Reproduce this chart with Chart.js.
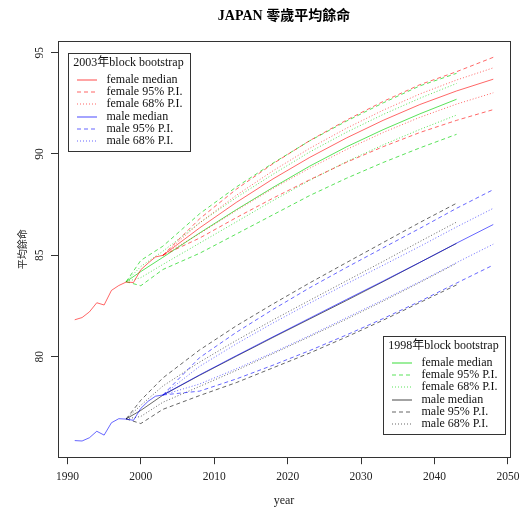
<!DOCTYPE html>
<html>
<head>
<meta charset="utf-8">
<title>JAPAN 零歲平均餘命</title>
<script src="https://cdn.jsdelivr.net/npm/chart.js@4.4.0/dist/chart.umd.min.js"></script>
<style>
  html, body { margin: 0; padding: 0; background: #fff; }
</style>
</head>
<body>
<canvas id="chart" width="522" height="508"></canvas>
<script>
// Observed life expectancy at birth
const histYears = [1991, 1992, 1993, 1994, 1995, 1996, 1997, 1998, 1999, 2000, 2001, 2002, 2003];
const femaleObserved = [81.82, 81.93, 82.21, 82.66, 82.55, 83.27, 83.51, 83.68, 83.66, 84.29, 84.62, 84.92, 85.0];
const maleObserved = [75.86, 75.84, 76.0, 76.32, 76.13, 76.74, 76.94, 76.92, 76.86, 77.45, 77.8, 78.05, 78.11];

// Block bootstrap forecasts, base year 2003
const years2003 = [2003, 2008, 2013, 2018, 2023, 2028, 2033, 2038, 2043, 2048];
const female2003Median = [85.0, 86.35, 87.61, 88.77, 89.83, 90.79, 91.66, 92.44, 93.11, 93.69];
const female2003Hi95 = [85.0, 86.80, 88.26, 89.52, 90.66, 91.67, 92.59, 93.42, 94.06, 94.77];
const female2003Lo95 = [85.0, 85.85, 86.86, 87.82, 88.73, 89.59, 90.36, 91.06, 91.66, 92.19];
const female2003Hi68 = [85.0, 86.60, 87.96, 89.17, 90.28, 91.27, 92.16, 92.96, 93.65, 94.25];
const female2003Lo68 = [85.0, 86.07, 87.21, 88.30, 89.30, 90.22, 91.06, 91.81, 92.46, 93.02];
const male2003Median = [78.11, 79.1, 80.05, 80.98, 81.9, 82.82, 83.73, 84.65, 85.6, 86.52];
const male2003Hi95 = [78.11, 79.95, 81.2, 82.33, 83.4, 84.4, 85.37, 86.33, 87.32, 88.24];
const male2003Lo95 = [78.11, 78.3, 78.9, 79.58, 80.3, 81.07, 81.88, 82.73, 83.63, 84.52];
const male2003Hi68 = [78.11, 79.52, 80.63, 81.66, 82.64, 83.59, 84.51, 85.44, 86.4, 87.32];
const male2003Lo68 = [78.11, 78.65, 79.4, 80.2, 81.04, 81.92, 82.8, 83.7, 84.64, 85.55];

// Block bootstrap forecasts, base year 1998
const years1998 = [1998, 2000, 2003, 2008, 2013, 2018, 2023, 2028, 2033, 2038, 2043];
const female1998Median = [83.7, 84.2, 84.9, 86.1, 87.25, 88.35, 89.4, 90.35, 91.2, 91.98, 92.70];
const female1998Hi95 = [83.7, 84.75, 85.45, 87.05, 88.37, 89.55, 90.65, 91.62, 92.52, 93.36, 93.98];
const female1998Lo95 = [83.7, 83.5, 84.3, 85.1, 86.05, 87.0, 87.95, 88.8, 89.58, 90.3, 90.97];
const female1998Hi68 = [83.7, 84.45, 85.2, 86.6, 87.85, 89.0, 90.1, 91.07, 91.95, 92.75, 93.48];
const female1998Lo68 = [83.7, 83.9, 84.55, 85.6, 86.65, 87.7, 88.7, 89.62, 90.45, 91.21, 91.92];
const male1998Median = [76.93, 77.35, 78.1, 79.08, 80.02, 80.95, 81.86, 82.77, 83.7, 84.65, 85.59];
const male1998Hi95 = [76.93, 77.85, 78.95, 80.33, 81.52, 82.6, 83.64, 84.64, 85.63, 86.62, 87.57];
const male1998Lo95 = [76.93, 76.7, 77.4, 78.08, 78.72, 79.45, 80.18, 80.97, 81.8, 82.67, 83.54];
const male1998Hi68 = [76.93, 77.6, 78.55, 79.73, 80.8, 81.81, 82.78, 83.74, 84.7, 85.68, 86.64];
const male1998Lo68 = [76.93, 77.05, 77.75, 78.53, 79.32, 80.15, 80.99, 81.85, 82.74, 83.66, 84.61];

// Axis ticks and labels
const xTicks = [1990, 2000, 2010, 2020, 2030, 2040, 2050];
const yTicks = [80, 85, 90, 95];
const chartTitle = 'JAPAN 零歲平均餘命';
const xTitle = 'year';
const yTitle = '平均餘命';
const legendRows = ['female median', 'female 95% P.I.', 'female 68% P.I.', 'male median', 'male 95% P.I.', 'male 68% P.I.'];
const legendTitles = { b2003: '2003年block bootstrap', b1998: '1998年block bootstrap' };

const FONT = "'Liberation Serif', 'Noto Sans CJK TC', serif";
const RED = 'rgba(255,0,0,0.6)';
const GREEN = 'rgba(0,210,0,0.65)';
const BLUE = 'rgba(0,0,255,0.6)';
const BLACK = 'rgba(0,0,0,0.6)';
const DASH = [4, 3];
const DOT = [1, 2];

function pts(xs, ys) {
    return xs.map((x, i) => ({ x: x, y: ys[i] }));
}

function line(xs, ys, color, dash, group, row) {
    return {
        data: pts(xs, ys),
        borderColor: color,
        borderWidth: 1,
        borderDash: dash || [],
        pointRadius: 0,
        fill: false,
        tension: 0,
        group: group,
        row: row
    };
}

const datasets = [
    line(histYears, femaleObserved, RED),
    line(histYears, maleObserved, BLUE),

    line(years2003, female2003Median, RED, null, 'b2003', 0),
    line(years2003, female2003Hi95, RED, DASH, 'b2003', 1),
    line(years2003, female2003Lo95, RED, DASH),
    line(years2003, female2003Hi68, RED, DOT, 'b2003', 2),
    line(years2003, female2003Lo68, RED, DOT),
    line(years2003, male2003Median, BLUE, null, 'b2003', 3),
    line(years2003, male2003Hi95, BLUE, DASH, 'b2003', 4),
    line(years2003, male2003Lo95, BLUE, DASH),
    line(years2003, male2003Hi68, BLUE, DOT, 'b2003', 5),
    line(years2003, male2003Lo68, BLUE, DOT),

    line(years1998, female1998Median, GREEN, null, 'b1998', 0),
    line(years1998, female1998Hi95, GREEN, DASH, 'b1998', 1),
    line(years1998, female1998Lo95, GREEN, DASH),
    line(years1998, female1998Hi68, GREEN, DOT, 'b1998', 2),
    line(years1998, female1998Lo68, GREEN, DOT),
    line(years1998, male1998Median, BLACK, null, 'b1998', 3),
    line(years1998, male1998Hi95, BLACK, DASH, 'b1998', 4),
    line(years1998, male1998Lo95, BLACK, DASH),
    line(years1998, male1998Hi68, BLACK, DOT, 'b1998', 5),
    line(years1998, male1998Lo68, BLACK, DOT)
];

// legend box with title, one row per median / interval style
function drawLegend(ctx, chart, group, left, top) {
    const w = 122, h = 98;
    ctx.strokeStyle = '#333';
    ctx.lineWidth = 1;
    ctx.strokeRect(Math.round(left) + 0.5, Math.round(top) + 0.5, w, h);

    ctx.fillStyle = '#111';
    ctx.font = '12px ' + FONT;
    ctx.textAlign = 'center';
    ctx.textBaseline = 'middle';
    ctx.fillText(legendTitles[group], left + w / 2, top + 9.5);

    ctx.textAlign = 'left';
    chart.data.datasets.forEach(ds => {
        if (ds.group !== group) return;
        const yy = Math.round(top + 26.5 + ds.row * 12.3);
        ctx.save();
        ctx.strokeStyle = ds.borderColor;
        ctx.lineWidth = 1.2;
        ctx.setLineDash(ds.borderDash);
        ctx.beginPath();
        ctx.moveTo(left + 9.5, yy);
        ctx.lineTo(left + 29.5, yy);
        ctx.stroke();
        ctx.restore();
        ctx.fillStyle = '#111';
        ctx.fillText(legendRows[ds.row], left + 39, yy);
    });
}

const decor = {
    id: 'decor',
    afterDraw(chart) {
        const { ctx, chartArea: a, scales: { y } } = chart;
        ctx.save();

        // frame around the plotting region
        ctx.strokeStyle = '#333';
        ctx.lineWidth = 1;
        ctx.strokeRect(Math.round(a.left) + 0.5, Math.round(a.top) + 0.5,
            Math.round(a.right - a.left), Math.round(a.bottom - a.top));

        // main title
        ctx.fillStyle = '#000';
        ctx.font = 'bold 14px ' + FONT;
        ctx.textAlign = 'center';
        ctx.textBaseline = 'middle';
        ctx.fillText(chartTitle, (a.left + a.right) / 2, 16.5);

        // y tick labels run along the axis
        ctx.font = '11.5px ' + FONT;
        ctx.fillStyle = '#222';
        yTicks.forEach(v => {
            ctx.save();
            ctx.translate(40, y.getPixelForValue(v));
            ctx.rotate(-Math.PI / 2);
            ctx.fillText(String(v), 0, 0);
            ctx.restore();
        });

        drawLegend(ctx, chart, 'b2003', a.left + 9.5, a.top + 12);
        drawLegend(ctx, chart, 'b1998', a.right - 127.5, a.bottom - 121);
        ctx.restore();
    }
};

const chart = new Chart(document.getElementById('chart').getContext('2d'), {
    type: 'line',
    data: { datasets: datasets },
    options: {
        responsive: false,
        animation: false,
        layout: { padding: { top: 41.3, right: 12, bottom: 0, left: 0 } },
        plugins: {
            legend: { display: false },
            tooltip: { enabled: false },
            title: { display: false }
        },
        scales: {
            x: {
                type: 'linear',
                min: 1988.72,
                max: 2050.28,
                afterBuildTicks: s => { s.ticks = xTicks.map(v => ({ value: v })); },
                afterFit: s => {
                    s.height = 50.8;
                    s.paddingLeft = 0;
                    s.paddingRight = 0;
                },
                grid: { drawOnChartArea: false, drawTicks: true, tickLength: 7, color: '#333' },
                border: { display: false },
                ticks: {
                    padding: 6,
                    color: '#222',
                    font: { family: FONT, size: 11.5 },
                    maxRotation: 0,
                    callback: v => String(v)
                },
                title: {
                    display: true,
                    text: xTitle,
                    color: '#222',
                    font: { family: FONT, size: 12 },
                    padding: { top: 0, bottom: 0 }
                }
            },
            y: {
                type: 'linear',
                min: 75.04,
                max: 95.56,
                afterBuildTicks: s => { s.ticks = yTicks.map(v => ({ value: v })); },
                afterFit: s => {
                    s.width = 58;
                    s.paddingTop = 0;
                    s.paddingBottom = 0;
                },
                grid: { drawOnChartArea: false, drawTicks: true, tickLength: 7, color: '#333' },
                border: { display: false },
                ticks: { display: false },
                title: {
                    display: true,
                    text: yTitle,
                    color: '#222',
                    font: { family: FONT, size: 10 },
                    padding: { top: 17, bottom: 0 }
                }
            }
        }
    },
    plugins: [decor]
});
</script>
</body>
</html>
